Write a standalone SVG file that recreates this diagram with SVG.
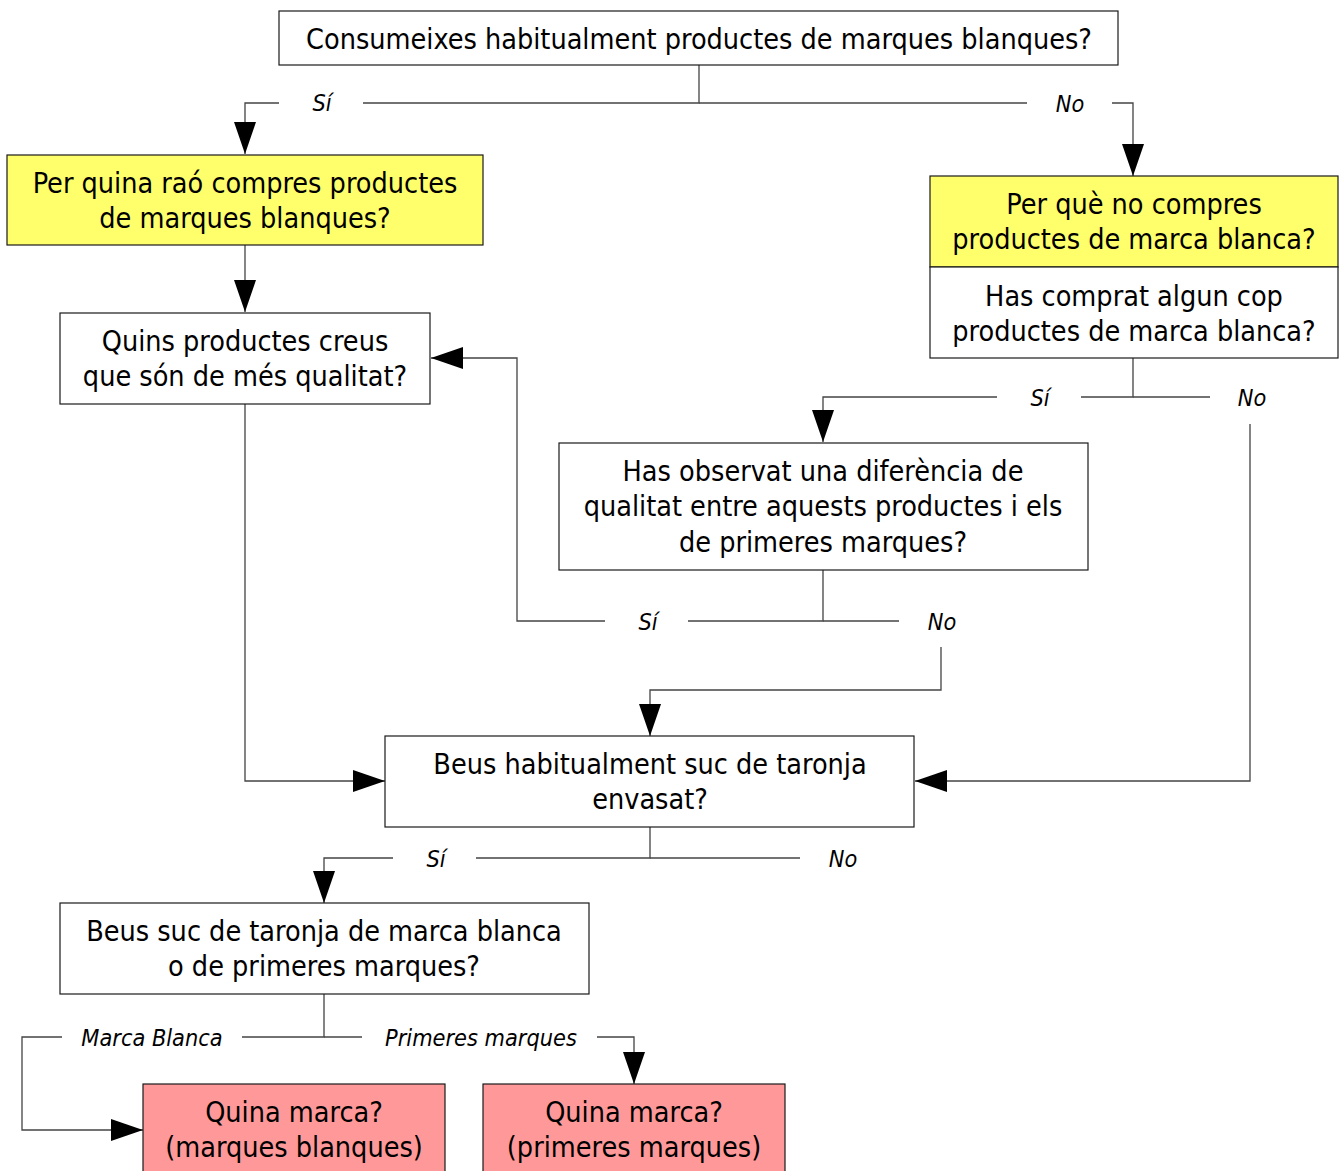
<svg xmlns="http://www.w3.org/2000/svg" width="1341" height="1171" viewBox="0 0 1341 1171">
<defs>
<marker id="ah" viewBox="0 0 32 22" refX="32" refY="11" markerWidth="32" markerHeight="22" markerUnits="userSpaceOnUse" orient="auto">
<path d="M0,0 L32,11 L0,22 Z" fill="#000"/>
</marker>
<style>
.box{stroke:#1a1a1a;stroke-width:1.2}
.w{fill:#fff}
.y{fill:#ffff6c}
.p{fill:#ff9999}
.t{font-family:"DejaVu Sans Condensed","DejaVu Sans",sans-serif;font-size:28.5px;fill:#000;text-anchor:middle}
.l{font-family:"DejaVu Sans Condensed","DejaVu Sans",sans-serif;font-size:23.3px;font-style:italic;fill:#000;text-anchor:middle}
.c{fill:none;stroke:#444;stroke-width:1.3}
</style>
</defs>
<rect width="1341" height="1171" fill="#fff"/>
<g id="connectors">
<path class="c" d="M699,65 V103 H363"/>
<path class="c" d="M279,103 H245 V154" marker-end="url(#ah)"/>
<path class="c" d="M699,103 H1027"/>
<path class="c" d="M1112,103 H1133 V176" marker-end="url(#ah)"/>
<path class="c" d="M245,245 V312" marker-end="url(#ah)"/>
<path class="c" d="M1133,358 V397 H1081"/>
<path class="c" d="M1133,397 H1210"/>
<path class="c" d="M997,397 H823 V442" marker-end="url(#ah)"/>
<path class="c" d="M1250,424 V781 H915" marker-end="url(#ah)"/>
<path class="c" d="M823,570 V621 H688"/>
<path class="c" d="M823,621 H899"/>
<path class="c" d="M605,621 H517 V358 H431" marker-end="url(#ah)"/>
<path class="c" d="M941,647 V690 H650 V736" marker-end="url(#ah)"/>
<path class="c" d="M245,404 V781 H385" marker-end="url(#ah)"/>
<path class="c" d="M650,827 V858 H476"/>
<path class="c" d="M650,858 H800"/>
<path class="c" d="M393,858 H324 V903" marker-end="url(#ah)"/>
<path class="c" d="M324,994 V1037 H242"/>
<path class="c" d="M324,1037 H362"/>
<path class="c" d="M62,1037 H22 V1130 H143" marker-end="url(#ah)"/>
<path class="c" d="M597,1037 H634 V1084" marker-end="url(#ah)"/>
<text class="l" x="322" y="111">Sí</text>
<text class="l" x="1070" y="112">No</text>
<text class="l" x="1040" y="406">Sí</text>
<text class="l" x="1252" y="406">No</text>
<text class="l" x="648" y="630">Sí</text>
<text class="l" x="942" y="630">No</text>
<text class="l" x="436" y="867">Sí</text>
<text class="l" x="843" y="867">No</text>
<text class="l" x="152" y="1046">Marca Blanca</text>
<text class="l" x="481" y="1046">Primeres marques</text>
</g>
<g id="n1"><rect class="box w" x="279" y="11" width="839" height="54"/><text class="t" x="699" y="49">Consumeixes habitualment productes de marques blanques?</text></g>
<g id="n2"><rect class="box y" x="7" y="155" width="476" height="90"/><text class="t" x="245" y="193">Per quina raó compres productes</text><text class="t" x="245" y="228">de marques blanques?</text></g>
<g id="n3"><rect class="box y" x="930" y="176" width="408" height="91"/><rect class="box w" x="930" y="267" width="408" height="91"/><text class="t" x="1134" y="214">Per què no compres</text><text class="t" x="1134" y="249">productes de marca blanca?</text><text class="t" x="1134" y="306">Has comprat algun cop</text><text class="t" x="1134" y="341">productes de marca blanca?</text></g>
<g id="n4"><rect class="box w" x="60" y="313" width="370" height="91"/><text class="t" x="245" y="351">Quins productes creus</text><text class="t" x="245" y="386">que són de més qualitat?</text></g>
<g id="n5"><rect class="box w" x="559" y="443" width="529" height="127"/><text class="t" x="823" y="481">Has observat una diferència de</text><text class="t" x="823" y="516">qualitat entre aquests productes i els</text><text class="t" x="823" y="552">de primeres marques?</text></g>
<g id="n6"><rect class="box w" x="385" y="736" width="529" height="91"/><text class="t" x="650" y="774">Beus habitualment suc de taronja</text><text class="t" x="650" y="809">envasat?</text></g>
<g id="n7"><rect class="box w" x="60" y="903" width="529" height="91"/><text class="t" x="324" y="941">Beus suc de taronja de marca blanca</text><text class="t" x="324" y="976">o de primeres marques?</text></g>
<g id="n8"><rect class="box p" x="143" y="1084" width="302" height="95"/><text class="t" x="294" y="1122">Quina marca?</text><text class="t" x="294" y="1157">(marques blanques)</text></g>
<g id="n9"><rect class="box p" x="483" y="1084" width="302" height="95"/><text class="t" x="634" y="1122">Quina marca?</text><text class="t" x="634" y="1157">(primeres marques)</text></g>
</svg>
